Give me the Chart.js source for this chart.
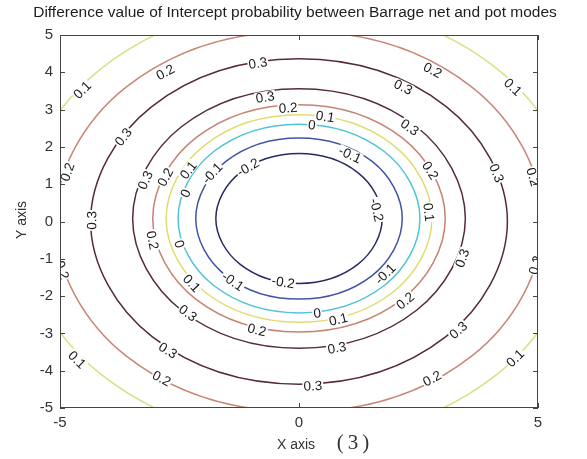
<!DOCTYPE html>
<html>
<head>
<meta charset="utf-8">
<script src="https://cdn.jsdelivr.net/npm/chart.js@4/dist/chart.umd.min.js"></script>
<style>
  html, body { margin: 0; padding: 0; background: #fff; }
  #wrap { width: 587px; height: 459px; position: relative; }
</style>
</head>
<body>
<div id="wrap"><canvas id="chart" width="587" height="459"></canvas></div>
<script>
'use strict'

// contour levels, inner ring to outer ring
const levels = ['-0.2', '-0.1', '0', '0.1', '0.2', '0.3', '0.3', '0.2', '0.1']

// points (every 45 deg, counter-clockwise from the right)
const contourNeg02 = [[1.74, 0.08], [1.23, 1.31], [0, 1.82], [-1.23, 1.31], [-1.74, 0.08], [-1.23, -1.15], [0, -1.66], [1.23, -1.15]]
const contourNeg01 = [[2.16, 0.08], [1.53, 1.61], [0, 2.24], [-1.53, 1.61], [-2.16, 0.08], [-1.53, -1.45], [0, -2.08], [1.53, -1.45]]
const contourZero = [[2.53, 0.08], [1.79, 1.87], [0, 2.61], [-1.79, 1.87], [-2.53, 0.08], [-1.79, -1.71], [0, -2.45], [1.79, -1.71]]
const contour01In = [[2.78, 0.08], [1.97, 2.05], [0, 2.86], [-1.97, 2.05], [-2.78, 0.08], [-1.97, -1.89], [0, -2.70], [1.97, -1.89]]
const contour02In = [[3.06, 0.08], [2.16, 2.24], [0, 3.13], [-2.16, 2.24], [-3.06, 0.08], [-2.16, -2.08], [0, -2.96], [2.16, -2.08]]
const contour03In = [[3.48, 0.08], [2.46, 2.54], [0, 3.56], [-2.46, 2.54], [-3.48, 0.08], [-2.46, -2.38], [0, -3.40], [2.46, -2.38]]
const contour03Out = [[4.36, 0], [3.08, 3.08], [0, 4.36], [-3.08, 3.08], [-4.36, 0], [-3.08, -3.08], [0, -4.36], [3.08, -3.08]]
const contour02Out = [[5.1, 0], [3.61, 3.61], [0, 5.1], [-3.61, 3.61], [-5.1, 0], [-3.61, -3.61], [0, -5.1], [3.61, -3.61]]
const contour01Out = [[5.83, 0], [4.12, 4.12], [0, 5.83], [-4.12, 4.12], [-5.83, 0], [-4.12, -4.12], [0, -5.83], [4.12, -4.12]]

// inline labels: [contour index, x, y]
const labelSpots = [
  [8, -4.54, 3.53], [7, -2.80, 4.01], [6, -0.86, 4.25], [6, -3.68, 2.27], [7, -4.85, 1.33], [6, -4.34, 0.03],
  [5, -0.71, 3.34], [4, -0.23, 3.05], [3, 0.55, 2.82], [2, 0.27, 2.60],
  [5, -3.22, 1.11], [4, -2.80, 1.19], [3, -2.32, 1.38], [2, -2.38, 0.76], [1, -1.82, 1.30], [0, -1.07, 1.46],
  [7, 2.80, 4.06], [8, 4.48, 3.61], [6, 2.18, 3.61], [5, 2.32, 2.53], [1, 1.07, 1.80],
  [6, 4.14, 1.30], [7, 4.90, 1.20], [4, 2.75, 1.37], [0, 1.63, 0.31], [3, 2.72, 0.25],
  [5, 3.41, -0.98], [1, 1.80, -1.40], [2, 0.38, -2.45], [3, 0.82, -2.62], [4, 2.22, -2.12],
  [5, 0.79, -3.38], [6, 3.33, -2.91], [6, 0.29, -4.40], [7, 2.78, -4.20], [8, 4.52, -3.66], [7, 4.94, -1.17],
  [0, -0.33, -1.62], [1, -1.38, -1.60], [3, -2.24, -1.65], [2, -2.50, -0.60], [5, -2.32, -2.45],
  [4, -0.88, -2.90], [4, -3.06, -0.50], [6, -2.74, -3.45], [7, -2.87, -4.20], [8, -4.64, -3.70], [7, -4.95, -1.30]
]

const xTicks = [-5, 0, 5]
const yTicks = [-5, -4, -3, -2, -1, 0, 1, 2, 3, 4, 5]

const contours = [contourNeg02, contourNeg01, contourZero, contour01In, contour02In, contour03In, contour03Out, contour02Out, contour01Out]
const lineColors = ['#272a62', '#4354a6', '#4fc4d6', '#e0dc6e', '#c78372', '#552a3e', '#552a3e', '#c98676', '#d2e486']

const FONT = "Arial, 'Liberation Sans', sans-serif"

// wrap the ring so the spline closes smoothly; first and last segments are hidden
function ringData(pts) {
  const all = [pts[pts.length - 1], ...pts, pts[0], pts[1]]
  return all.map(([x, y]) => ({ x, y }))
}

const datasets = contours.map((pts, i) => {
  const n = pts.length + 3
  return {
    label: levels[i],
    data: ringData(pts),
    showLine: true,
    borderColor: lineColors[i],
    borderWidth: 1.5,
    pointRadius: 0,
    tension: 0.375,
    clip: 0,
    segment: {
      borderColor: (ctx) => (ctx.p0DataIndex === 0 || ctx.p1DataIndex === n - 1 ? 'rgba(0,0,0,0)' : undefined),
    },
  }
})

const framePlugin = {
  id: 'frame',
  afterDatasetsDraw(chart) {
    const { ctx, chartArea: a, scales } = chart
    const xs = scales.x
    const ys = scales.y
    const sx = xs.getPixelForValue(1) - xs.getPixelForValue(0)
    const sy = ys.getPixelForValue(0) - ys.getPixelForValue(1)
    const cx = xs.getPixelForValue(0)
    const cy = ys.getPixelForValue(0)

    // contour labels
    ctx.save()
    ctx.font = `13.5px ${FONT}`
    ctx.textAlign = 'center'
    ctx.textBaseline = 'middle'
    labelSpots.forEach(([ci, x, y]) => {
      const px = xs.getPixelForValue(x)
      const py = ys.getPixelForValue(y)
      const nx = (px - cx) / (sx * sx)
      const ny = (py - cy) / (sy * sy)
      let ang = Math.atan2(nx, -ny)
      if (ang > Math.PI / 2) ang -= Math.PI
      if (ang < -Math.PI / 2) ang += Math.PI
      const txt = levels[ci]
      const w = ctx.measureText(txt).width
      ctx.save()
      ctx.beginPath()
      ctx.rect(a.left, a.top, a.right - a.left, a.bottom - a.top)
      ctx.clip()
      ctx.translate(px, py)
      ctx.rotate(ang)
      ctx.fillStyle = '#fff'
      ctx.fillRect(-w / 2 - 1, -5.5, w + 2, 11)
      ctx.fillStyle = '#1a1a1a'
      ctx.fillText(txt, 0, 1)
      ctx.restore()
    })
    ctx.restore()

    // box and inward ticks
    ctx.save()
    ctx.strokeStyle = '#444'
    ctx.lineWidth = 1
    ctx.strokeRect(a.left + 0.5, a.top + 0.5, a.right - a.left - 1, a.bottom - a.top - 1)
    ctx.beginPath()
    xTicks.forEach((v) => {
      const p = Math.round(xs.getPixelForValue(v)) + 0.5
      ctx.moveTo(p, a.bottom); ctx.lineTo(p, a.bottom - 5)
      ctx.moveTo(p, a.top); ctx.lineTo(p, a.top + 5)
    })
    yTicks.forEach((v) => {
      const p = Math.round(ys.getPixelForValue(v)) + 0.5
      ctx.moveTo(a.left, p); ctx.lineTo(a.left + 5, p)
      ctx.moveTo(a.right, p); ctx.lineTo(a.right - 5, p)
    })
    ctx.stroke()
    ctx.restore()

    // titles
    ctx.save()
    ctx.fillStyle = '#1e1e1e'
    ctx.textAlign = 'center'
    ctx.textBaseline = 'middle'
    ctx.font = `15.5px ${FONT}`
    ctx.fillText('Difference value of Intercept probability between Barrage net and pot modes', 295, 13)
    ctx.font = `14px ${FONT}`
    ctx.fillStyle = '#333'
    ctx.fillText('X axis', 296, 445)
    ctx.font = `21px 'Liberation Serif', 'DejaVu Serif', serif`
    ctx.letterSpacing = '4px'
    ctx.fillText('(3)', 355, 443)
    ctx.letterSpacing = '0px'
    ctx.translate(22, 220)
    ctx.rotate(-Math.PI / 2)
    ctx.font = `14px ${FONT}`
    ctx.fillText('Y axis', 0, 0)
    ctx.restore()
  },
}

new Chart(document.getElementById('chart'), {
  type: 'scatter',
  data: { datasets },
  options: {
    responsive: false,
    animation: false,
    layout: { padding: { top: 35, right: 49, left: 0, bottom: 0 } },
    elements: { line: { capBezierPoints: false } },
    plugins: { legend: { display: false }, tooltip: { enabled: false } },
    scales: {
      x: {
        type: 'linear',
        min: -5,
        max: 5,
        grid: { display: false, drawTicks: false },
        border: { display: false },
        afterBuildTicks(scale) { scale.ticks = xTicks.map((v) => ({ value: v })) },
        afterFit(scale) { scale.height = 51 },
        ticks: { autoSkip: false, maxRotation: 0, padding: 6, color: '#333', font: { family: FONT, size: 15 } },
      },
      y: {
        type: 'linear',
        min: -5,
        max: 5,
        grid: { display: false, drawTicks: false },
        border: { display: false },
        afterBuildTicks(scale) { scale.ticks = yTicks.map((v) => ({ value: v })) },
        afterFit(scale) { scale.width = 60 },
        ticks: { autoSkip: false, padding: 7, color: '#333', font: { family: FONT, size: 15 } },
      },
    },
  },
  plugins: [framePlugin],
})
</script>
</body>
</html>
